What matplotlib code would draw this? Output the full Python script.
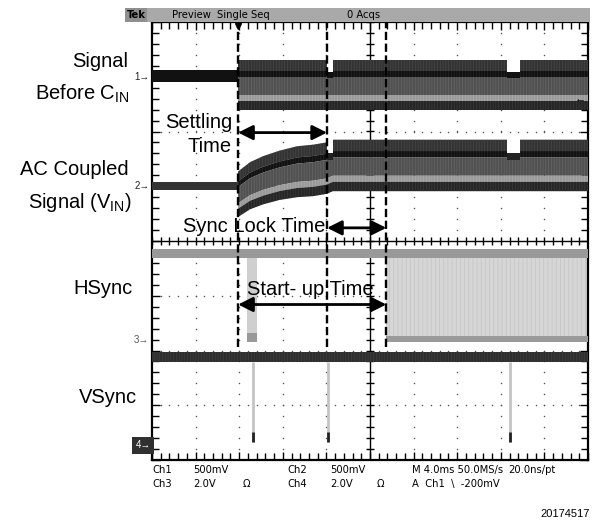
import numpy as np
import matplotlib.pyplot as plt
from matplotlib.patches import Rectangle
from matplotlib.colors import to_rgb

plt.rcParams['font.family'] = ['Liberation Sans', 'DejaVu Sans']
plt.rcParams['mathtext.fontset'] = 'custom'
plt.rcParams['mathtext.rm'] = 'Liberation Sans'
plt.rcParams['hatch.linewidth'] = 0.45

# scope screen: 4 ms/div over 10 div, 8 vertical div
t_span = 40.0
cursor_times = [7.9, 16.06, 21.5]          # trigger, settled, sync locked (ms)
notch_times = [(16.06, 16.6), (32.57, 33.76)]

# ch1 - signal before C_IN (div)
ch1_level = 3.0
ch1_idle = (2.91, 3.13)
ch1_t = [7.9, 40.0]
ch1_top = [3.31, 3.31]
ch1_bot = [2.40, 2.40]
ch1_notch_line = 3.09

# ch2 - AC coupled signal, settling envelope
ch2_level = 1.0
ch2_idle = (0.93, 1.07)
ch2_t = [7.9, 9.0, 10.2, 11.7, 13.3, 14.8, 16.0, 16.6, 40.0]
ch2_top = [1.27, 1.44, 1.55, 1.65, 1.73, 1.76, 1.80, 1.85, 1.85]
ch2_bot = [0.44, 0.58, 0.67, 0.75, 0.80, 0.82, 0.86, 0.91, 0.91]
ch2_notch_line = 1.60

# ch3 - HSync
ch3_level = -1.8
hs_high = (-0.15, -0.31)
hs_low = (-1.73, -1.85)
hs_burst = (8.72, 9.63)
hs_lock = 21.5

# ch4 - VSync
ch4_level = -3.73
vs_band = (-2.03, -2.21)
vs_pulse_times = [9.27, 16.15, 32.84]

# annotation arrows: (t_start, t_end, y)
arrows = [(7.9, 16.06, 1.98), (16.06, 21.5, 0.24), (7.9, 21.5, -1.16)]

# band shading inside a video envelope (fraction from top, colour)
layers = [(0.0, 0.22, '#333333'), (0.22, 0.34, '#111111'),
          (0.34, 0.70, '#515151'), (0.70, 0.82, '#999999'),
          (0.82, 1.0, '#262626')]

W, H = 598, 520
fig = plt.figure(figsize=(W / 100, H / 100), dpi=100)
L, R, T, B = 152, 588, 22, 460
ax = fig.add_axes([L / W, 1 - B / H, (R - L) / W, (B - T) / H])
ax.set_xlim(0, t_span)
ax.set_ylim(-4, 4)


def fx(x):
    return x / W


def fy(y):
    return 1 - y / H


def lighter(c, d=0.09):
    r, g, b = to_rgb(c)
    return (min(r + d, 1), min(g + d, 1), min(b + d, 1))


# graticule
ax.set_xticks(np.arange(0, 41, 4))
ax.set_xticks(np.arange(0, 40.1, 0.8), minor=True)
ax.set_yticks(np.arange(-4, 5, 1))
ax.set_yticks(np.arange(-4, 4.01, 0.2), minor=True)
ax.tick_params(which='both', direction='in', top=True, right=True,
               labelbottom=False, labelleft=False, width=1, color='black')
ax.tick_params(which='major', length=6)
ax.tick_params(which='minor', length=5)
for s in ax.spines.values():
    s.set_linewidth(1.6)

gx, gy = [], []
for k in range(1, 10):
    if k == 5:
        continue
    for v in np.arange(-4, 4.01, 0.2):
        gx.append(4 * k)
        gy.append(v)
for k in range(-3, 4):
    if k == 0:
        continue
    for v in np.arange(0, 40.1, 0.8):
        gx.append(v)
        gy.append(k)
ax.scatter(gx, gy, s=1.2, color='#555555', lw=0, zorder=1)
ax.axvline(20, color='black', lw=1, zorder=1)
ax.axhline(0, color='black', lw=1, zorder=1)
cy = np.arange(-4, 4.01, 0.2)
ax.scatter(np.full(cy.size, 20.0), cy, marker='_', s=30, lw=1, color='black', zorder=1)
cx = np.arange(0, 40.1, 0.8)
ax.scatter(cx, np.zeros(cx.size), marker='|', s=30, lw=1, color='black', zorder=1)


def envelope(t, top, bot):
    t = np.asarray(t)
    top = np.asarray(top)
    bot = np.asarray(bot)
    h = top - bot
    for f0, f1, c in layers:
        ax.fill_between(t, top - f0 * h, top - f1 * h, color=c, lw=0,
                        hatch='||||||', edgecolor=lighter(c), zorder=3)


# ch1
ax.fill_between([0, cursor_times[0]], ch1_idle[0], ch1_idle[1], color='#111111', lw=0, zorder=3)
envelope(ch1_t, ch1_top, ch1_bot)
# ch2
ax.fill_between([0, cursor_times[0]], ch2_idle[0], ch2_idle[1], color='#333333', lw=0, zorder=3)
envelope(ch2_t, ch2_top, ch2_bot)
for a, b in notch_times:
    ax.fill_between([a, b], ch1_notch_line, ch1_top[0] + 0.05, color='white', lw=0, zorder=4)
    ax.fill_between([a, b], ch2_notch_line, ch2_top[-1] + 0.05, color='white', lw=0, zorder=4)
    ax.fill_between([a, b], ch1_notch_line - 0.12, ch1_notch_line, color='#111111', lw=0, zorder=4)
    ax.fill_between([a, b], ch2_notch_line - 0.12, ch2_notch_line, color='#222222', lw=0, zorder=4)

# ch3 HSync
ax.fill_between([0, t_span], hs_high[0], hs_high[1], color='#999999', lw=0, zorder=3)
ax.fill_between([hs_lock, t_span], hs_high[1], hs_low[0], color='#d6d6d6', lw=0,
                hatch='||||', edgecolor='#c2c2c2', zorder=2)
ax.fill_between([hs_lock, t_span], hs_low[0], hs_low[1], color='#9a9a9a', lw=0, zorder=3)
ax.fill_between(hs_burst, hs_high[1], hs_low[0], color='#cfcfcf', lw=0, zorder=2)
ax.fill_between(hs_burst, hs_low[0] + 0.05, hs_low[1], color='#999999', lw=0, zorder=3)

# ch4 VSync
ax.fill_between([0, t_span], vs_band[0], vs_band[1], color='#2e2e2e', lw=0,
                hatch='||||||', edgecolor='#404040', zorder=3)
ax.vlines(vs_pulse_times, ch4_level + 0.05, vs_band[1], color='#c4c4c4', lw=2, zorder=2)
ax.vlines(vs_pulse_times, ch4_level + 0.05, ch4_level + 0.25, color='#222222', lw=2, zorder=3)

# cursors
ax.vlines(cursor_times, -1.93, 4, color='black', lw=1.7, linestyles=(0, (3.5, 1.5)), zorder=5)
ax.plot(cursor_times[0], 3.93, marker='v', ms=5, color='black', zorder=6, clip_on=False)
ax.text(39.8, ch1_level - 0.4, '\u2190', ha='right', va='center', fontsize=8, zorder=6)

for t0, t1, y in arrows:
    ax.annotate('', xy=(t1, y), xytext=(t0, y),
                arrowprops=dict(arrowstyle='<|-|>', lw=2, color='black',
                                mutation_scale=22, shrinkA=0, shrinkB=0), zorder=6)

lab = dict(fontsize=14.5, zorder=7)
ax.text(7.34, 2.07, 'Settling', ha='right', va='baseline', **lab)
ax.text(7.34, 1.62, 'Time', ha='right', va='baseline', **lab)
ax.text(15.87, 0.16, 'Sync Lock Time', ha='right', va='baseline', **lab)
ax.text(8.72, -0.98, 'Start- up Time', ha='left', va='baseline', **lab)

# channel ground markers
for n, lvl in [(1, ch1_level), (2, ch2_level), (3, ch3_level)]:
    ax.annotate(f'{n}\u2192', xy=(0, lvl), xytext=(-2, 0), textcoords='offset points',
                ha='right', va='center', fontsize=7, annotation_clip=False,
                color='#222222' if n < 3 else '#555555')
ax.annotate('4\u2192', xy=(0, ch4_level), xytext=(-1, 0), textcoords='offset points',
            ha='right', va='center', fontsize=7, color='white', annotation_clip=False,
            bbox=dict(boxstyle='square,pad=0.35', fc='#303030', ec='none'))

# left labels
big = dict(fontsize=14.5, ha='right', va='baseline')
fig.text(fx(128), fy(67), 'Signal', **big)
fig.text(fx(130), fy(100), r'Before C$_{\mathrm{IN}}$', **big)
fig.text(fx(129), fy(175), 'AC Coupled', **big)
fig.text(fx(132), fy(208), r'Signal (V$_{\mathrm{IN}}$)', **big)
fig.text(fx(133), fy(294), 'HSync', **big)
fig.text(fx(137), fy(403), 'VSync', **big)

# top status bar
fig.patches.append(Rectangle((fx(125), fy(22)), fx(590) - fx(125), fy(8) - fy(22),
                             transform=fig.transFigure, fc='#a9a9a9', ec='none'))
fig.patches.append(Rectangle((fx(125), fy(22)), fx(147) - fx(125), fy(8) - fy(22),
                             transform=fig.transFigure, fc='#8f8f8f', ec='none'))
scope = dict(family='DejaVu Sans', fontstretch='condensed',
             fontsize=8, va='center', ha='left')
fig.text(fx(127), fy(15), 'Tek', fontweight='bold', **scope)
fig.text(fx(172), fy(15), 'Preview', **scope)
fig.text(fx(217), fy(15), 'Single Seq', **scope)
fig.text(fx(347), fy(15), '0 Acqs', **scope)

# readout
row1, row2 = 470, 484
for x, s in [(152, 'Ch1'), (193, '500mV'), (287, 'Ch2'), (330, '500mV'),
             (412, 'M 4.0ms 50.0MS/s'), (508, '20.0ns/pt')]:
    fig.text(fx(x), fy(row1), s, **scope)
for x, s in [(152, 'Ch3'), (193, '2.0V'), (243, '\u03a9'), (287, 'Ch4'), (330, '2.0V'),
             (377, '\u03a9'), (412, 'A  Ch1  \\  -200mV')]:
    fig.text(fx(x), fy(row2), s, **scope)

fig.text(fx(590), fy(517), '20174517', fontsize=8, ha='right', va='baseline')

fig.savefig('out.png', dpi=100)
